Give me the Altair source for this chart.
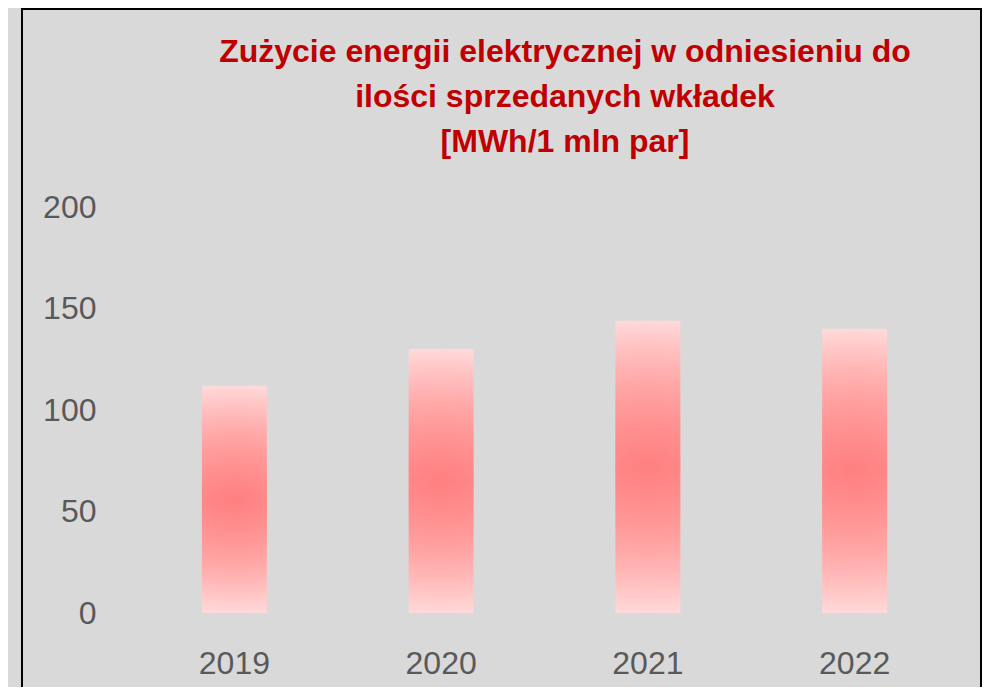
import altair as alt
import pandas as pd

years = ["2019", "2020", "2021", "2022"]
values = [112, 130, 144, 140]
y_ticks = [0, 50, 100, 150, 200]
title_lines = [
    "Zużycie energii elektrycznej w odniesieniu do",
    "ilości sprzedanych wkładek",
    "[MWh/1 mln par]",
]

df = pd.DataFrame({"year": years, "value": values})

x_enc = alt.X(
    "year:N",
    sort=years,
    scale=alt.Scale(paddingInner=0.686, paddingOuter=0.343),
    axis=alt.Axis(
        title=None, labelAngle=0, domain=False, ticks=False, grid=False,
        labelFontSize=32, labelColor="#595959", labelFont="Liberation Sans",
        labelPadding=35,
    ),
)
y_enc = alt.Y(
    "value:Q",
    scale=alt.Scale(domain=[0, 200], nice=False),
    axis=alt.Axis(
        title=None, values=y_ticks, domain=False, ticks=False, grid=False,
        labelFontSize=32, labelColor="#595959", labelFont="Liberation Sans",
        labelPadding=35,
    ),
)

linear = alt.LinearGradient(
    gradient="linear", x1=0, y1=0, x2=0, y2=1,
    stops=[
        alt.GradientStop(color="#ffd9d9", offset=0),
        alt.GradientStop(color="#ffb6b6", offset=0.25),
        alt.GradientStop(color="#ff9797", offset=0.5),
        alt.GradientStop(color="#ffb6b6", offset=0.75),
        alt.GradientStop(color="#ffd9d9", offset=1),
    ],
)
radial = alt.RadialGradient(
    gradient="radial", x1=0.5, y1=0.5, x2=0.5, y2=0.5, r1=0, r2=0.5,
    stops=[
        alt.GradientStop(color="rgba(255,120,120,0.75)", offset=0),
        alt.GradientStop(color="rgba(255,128,128,0)", offset=1),
    ],
)

bars = alt.Chart(df).mark_bar(fill=linear, stroke=None).encode(x=x_enc, y=y_enc)
spots = alt.Chart(df).mark_bar(fill=radial, stroke=None).encode(x=x_enc, y=y_enc)

frame = alt.Chart(pd.DataFrame({"a": [0]})).mark_rect(
    fill=None, stroke="black", strokeWidth=2
).encode(
    x=alt.value(-109), x2=alt.value(850), y=alt.value(-198), y2=alt.value(520)
)

title = alt.Chart(pd.DataFrame({"a": [0]})).mark_text(
    text=title_lines,
    font="Liberation Sans",
    fontSize=32,
    fontWeight="bold",
    color="#C00000",
    align="center",
    baseline="top",
    lineHeight=45,
).encode(x=alt.value(434), y=alt.value(-170))

chart = alt.layer(frame, bars, spots, title).properties(
    width=827,
    height=406,
    autosize=alt.AutoSizeParams(type="none"),
    padding={"left": 123, "top": 199, "right": 24, "bottom": 74},
    background="#d9d9d9",
).configure_view(stroke=None)

chart.save("out.html", embed_options={"renderer": "svg", "actions": False})
